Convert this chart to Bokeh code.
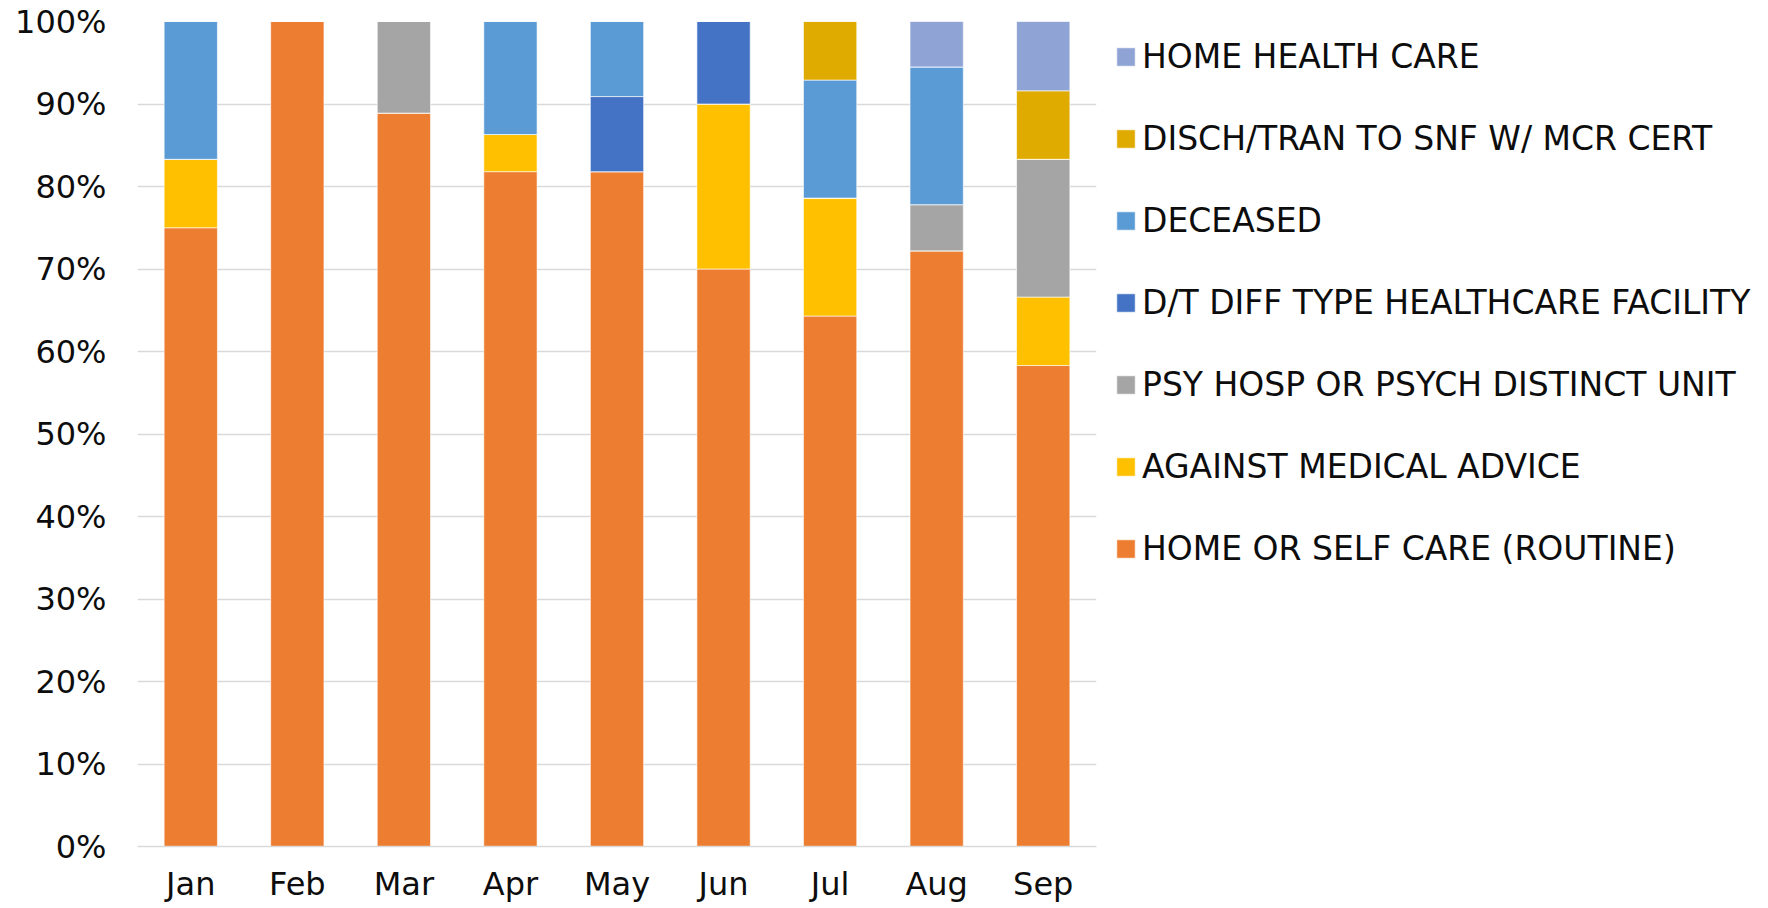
from bokeh.plotting import figure
from bokeh.models import Legend, LegendItem, FixedTicker, PrintfTickFormatter, Range1d, FactorRange, ColumnDataSource
from bokeh.embed import file_html
from bokeh.resources import INLINE

months = ["Jan", "Feb", "Mar", "Apr", "May", "Jun", "Jul", "Aug", "Sep"]
home_or_self_care = [75.0, 100.0, 88.9, 81.8, 81.8, 70.0, 64.3, 72.2, 58.3]
against_medical_advice = [8.3, 0, 0, 4.5, 0, 20.0, 14.3, 0, 8.3]
psy_hosp = [0, 0, 11.1, 0, 0, 0, 0, 5.6, 16.7]
dt_diff_type = [0, 0, 0, 0, 9.1, 10.0, 0, 0, 0]
deceased = [16.7, 0, 0, 13.7, 9.1, 0, 14.3, 16.7, 0]
disch_snf = [0, 0, 0, 0, 0, 0, 7.1, 0, 8.3]
home_health_care = [0, 0, 0, 0, 0, 0, 0, 5.5, 8.4]

series_keys = ["home", "ama", "psy", "dt", "dec", "snf", "hhc"]
series_names = ["HOME OR SELF CARE (ROUTINE)", "AGAINST MEDICAL ADVICE",
                "PSY HOSP OR PSYCH DISTINCT UNIT", "D/T DIFF TYPE HEALTHCARE FACILITY",
                "DECEASED", "DISCH/TRAN TO SNF W/ MCR CERT", "HOME HEALTH CARE"]
colors = ["#ED7D31", "#FFC000", "#A5A5A5", "#4472C4", "#5B9BD5", "#E0AB00", "#8FA3D5"]

src = ColumnDataSource(dict(month=months, home=home_or_self_care, ama=against_medical_advice,
                            psy=psy_hosp, dt=dt_diff_type, dec=deceased, snf=disch_snf,
                            hhc=home_health_care))

FONT = "DejaVu Sans"
TXT = "#0d0d0d"

p = figure(x_range=FactorRange(*months, range_padding=0), y_range=Range1d(0, 100),
           frame_width=959, frame_height=825, min_border_left=137, min_border_top=21,
           min_border_right=660, min_border_bottom=40,
           output_backend="svg", toolbar_location=None)
p.outline_line_color = None

rs = p.vbar_stack(series_keys, x="month", width=0.5, source=src, color=colors,
                  line_color="white", line_width=1, line_alpha=0.6)

items = [LegendItem(label=series_names[i], renderers=[rs[i]]) for i in reversed(range(len(rs)))]
legend = Legend(items=items, location=(18, 276), border_line_alpha=0, background_fill_alpha=0,
                label_text_font_size="33px", label_text_font=FONT, label_text_color=TXT,
                glyph_width=23, glyph_height=23, label_standoff=5, spacing=38, label_height=44,
                margin=0, padding=0)
p.add_layout(legend, "right")

p.yaxis.ticker = FixedTicker(ticks=list(range(0, 101, 10)))
p.yaxis.formatter = PrintfTickFormatter(format="%d%%")
p.yaxis.axis_line_color = None
p.yaxis.major_tick_line_color = None
p.yaxis.minor_tick_line_color = None
p.yaxis.major_tick_out = 0
p.yaxis.major_label_standoff = 31
p.yaxis.major_label_text_font_size = "32px"
p.yaxis.major_label_text_font = FONT
p.yaxis.major_label_text_color = TXT

p.xaxis.axis_line_color = "#D9D9D9"
p.xaxis.axis_line_width = 1.5
p.xaxis.major_tick_line_color = None
p.xaxis.minor_tick_line_color = None
p.xaxis.major_tick_out = 0
p.xaxis.major_label_standoff = 18
p.xaxis.major_label_text_font_size = "32px"
p.xaxis.major_label_text_font = FONT
p.xaxis.major_label_text_color = TXT

p.xgrid.grid_line_color = None
p.ygrid.grid_line_color = "#D9D9D9"
p.ygrid.grid_line_width = 1.5

open("out.html", "w").write(file_html(p, INLINE))
